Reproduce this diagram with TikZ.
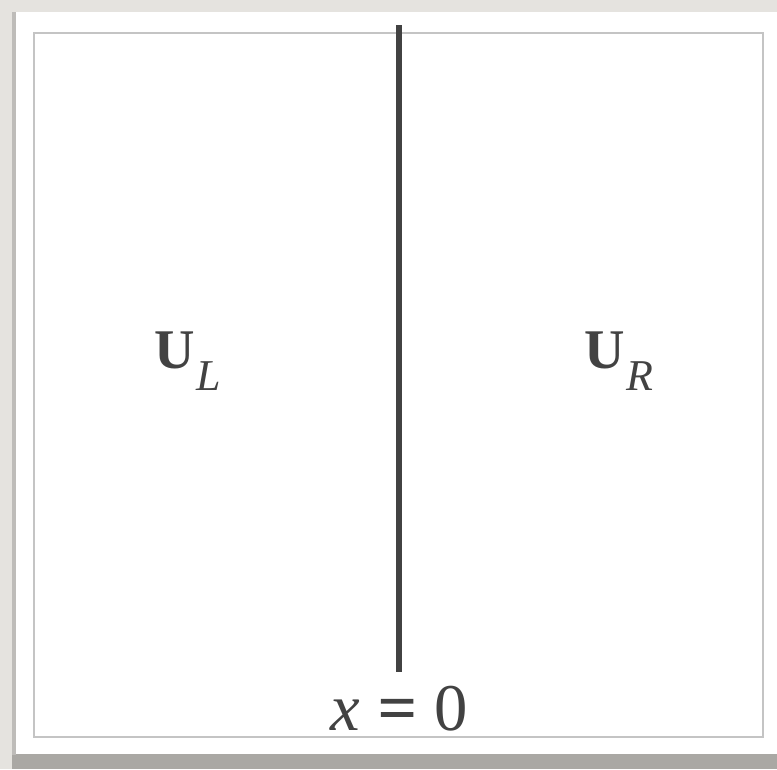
\documentclass[tikz,border=0pt]{standalone}
\usepackage{fontspec}
\setmainfont{Liberation Serif}
\newfontfamily\eqfont[FakeBold=2]{Liberation Serif}
\usepackage{tikz}
\usetikzlibrary{positioning, calc}
\definecolor{paper}{RGB}{229,227,223}
\definecolor{sheetshadow}{RGB}{170,168,164}
\definecolor{sheetedge}{RGB}{190,188,185}
\definecolor{frameline}{RGB}{196,196,196}
\definecolor{ink}{RGB}{66,66,66}
\tikzset{
  sheet/.style={fill=white, draw=none},
  frame/.style={draw=frameline, line width=1.8pt},
  interface/.style={draw=ink, line width=3.9pt},
  statelabel/.style={text=ink, font=\fontsize{42}{42}\selectfont, inner sep=0pt, anchor=base west},
  axislabel/.style={text=ink, font=\fontsize{50}{50}\selectfont, inner sep=0pt, anchor=base}
}
\newcommand{\statesub}[1]{\kern1.5pt\raisebox{-16.5pt}{\fontsize{33}{33}\selectfont\itshape #1}}
\begin{document}
\begin{tikzpicture}[x=0.75pt, y=-0.75pt]
  \useasboundingbox (0,0) rectangle (777,769);
  \fill[paper] (0,0) rectangle (777,769);
  % sheet with its shadow
  \fill[sheetshadow] (12,754) rectangle (777,769);
  \fill[sheetedge] (12,12) rectangle (16,755);
  \fill[sheet] (16,12) rectangle (777,754);
  \draw[frame] (34,33) rectangle (763,737);
  % interface at x = 0
  \coordinate (itop) at (399,25);
  \coordinate (ibottom) at (399,672);
  \draw[interface] (itop) -- (ibottom);
  \node[statelabel] (uleft) at (154,368) {\textbf{U}\statesub{L}};
  \node[statelabel] (uright) at (584,368) {\textbf{U}\statesub{R}};
  \node[axislabel] (origin) at (399,730) {\textit{x}\hspace{0.28em}{\eqfont=}\hspace{0.28em}0};
\end{tikzpicture}
\end{document}
